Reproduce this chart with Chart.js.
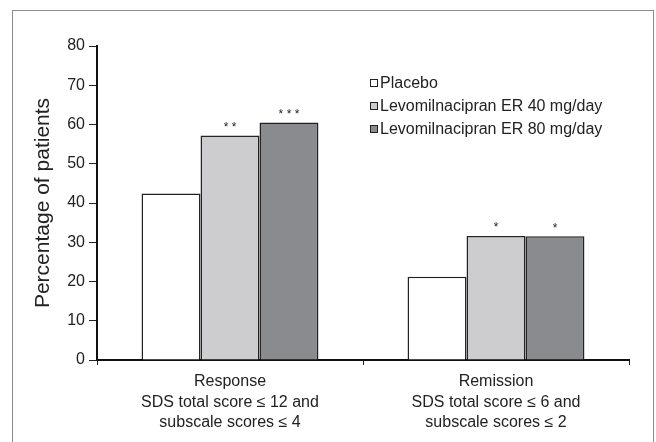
<!DOCTYPE html>
<html>
<head>
<meta charset="utf-8">
<script src="https://cdn.jsdelivr.net/npm/chart.js@4"></script>
<style>
  body { margin: 0; background: #fff; }
  #wrap { position: relative; width: 656px; height: 442px; overflow: hidden; }
  #frame { position: absolute; left: 12px; top: 10px; width: 640px; height: 460px; border: 1px solid #8c8c8c; }
  #chart { position: absolute; left: 0; top: 0; }
</style>
</head>
<body>
<div id="wrap">
  <div id="frame"></div>
  <canvas id="chart" width="656" height="442"></canvas>
</div>
<script>
// values
const categories = [
  ["Response", "SDS total score \u2264 12 and", "subscale scores \u2264 4"],
  ["Remission", "SDS total score \u2264 6 and", "subscale scores \u2264 2"],
];
const seriesNames = ["Placebo", "Levomilnacipran ER 40 mg/day", "Levomilnacipran ER 80 mg/day"];
const placeboValues = [42.4, 21.2];
const er40Values = [57.2, 31.6];
const er80Values = [60.5, 31.5];
// significance marks above bars
const placeboStars = ["", ""];
const er40Stars = ["**", "*"];
const er80Stars = ["***", "*"];
const yMin = 0;
const yMax = 80;
const yStep = 10;

const fontFamily = "'Liberation Sans', Arial, Helvetica, sans-serif";
const barColors = ["#ffffff", "#cdcdd0", "#8a8b8f"];

// stars drawn just above each bar
const starsPlugin = {
  id: "stars",
  afterDatasetsDraw(chart) {
    const ctx = chart.ctx;
    ctx.save();
    ctx.font = "12px " + fontFamily;
    ctx.fillStyle = "#222";
    ctx.textAlign = "center";
    ctx.textBaseline = "middle";
    chart.data.datasets.forEach((ds, i) => {
      const meta = chart.getDatasetMeta(i);
      meta.data.forEach((bar, j) => {
        const s = ds.stars[j];
        if (!s) return;
        ctx.fillText(s.split("").join(" "), bar.x, bar.y - 8);
      });
    });
    ctx.restore();
  },
};

// legend inside the plot, upper right
const legendPlugin = {
  id: "insideLegend",
  afterDraw(chart) {
    const ctx = chart.ctx;
    const x = 370;
    let y = 83;
    ctx.save();
    ctx.font = "16px " + fontFamily;
    ctx.textBaseline = "middle";
    chart.data.datasets.forEach((ds) => {
      ctx.fillStyle = ds.backgroundColor;
      ctx.fillRect(x, y - 4, 8, 8);
      ctx.strokeStyle = "#222";
      ctx.lineWidth = 1;
      ctx.strokeRect(x + 0.5, y - 3.5, 7, 7);
      ctx.fillStyle = "#222";
      ctx.fillText(ds.label, x + 10, y + 1);
      y += 23;
    });
    ctx.restore();
  },
};

const makeDataset = (label, values, color, stars) => ({
  label: label,
  data: values,
  backgroundColor: color,
  borderColor: "#222",
  borderWidth: 1.5,
  borderSkipped: "bottom",
  stars: stars,
});

const createChart = () => {
  const ctx = document.querySelector("#chart").getContext("2d");
  new Chart(ctx, {
    type: "bar",
    data: {
      labels: categories,
      datasets: [
        makeDataset(seriesNames[0], placeboValues, barColors[0], placeboStars),
        makeDataset(seriesNames[1], er40Values, barColors[1], er40Stars),
        makeDataset(seriesNames[2], er80Values, barColors[2], er80Stars),
      ],
    },
    options: {
      responsive: false,
      animation: false,
      layout: {
        padding: { left: 31, right: 27, top: 46, bottom: 0 },
      },
      datasets: {
        bar: {
          barPercentage: 1,
          categoryPercentage: 0.665,
        },
      },
      plugins: {
        legend: { display: false },
        tooltip: { enabled: false },
      },
      scales: {
        x: {
          grid: {
            display: true,
            drawOnChartArea: false,
            offset: true,
            color: "#222",
            lineWidth: 1,
            tickLength: 5,
          },
          border: { color: "#111", width: 2 },
          ticks: {
            color: "#222",
            font: { family: fontFamily, size: 16, lineHeight: 1.3 },
            padding: 6,
            maxRotation: 0,
          },
          afterFit: (scale) => {
            scale.height = 442 - 360;
          },
        },
        y: {
          min: yMin,
          max: yMax,
          grid: {
            display: true,
            drawOnChartArea: false,
            color: "#222",
            lineWidth: 1,
            tickLength: 8,
          },
          border: { color: "#111", width: 2 },
          ticks: {
            stepSize: yStep,
            color: "#222",
            font: { family: fontFamily, size: 16 },
            padding: 4,
          },
          title: {
            display: true,
            text: "Percentage of patients",
            color: "#222",
            font: { family: fontFamily, size: 21 },
            padding: 0,
          },
          afterFit: (scale) => {
            scale.width = 97 - 31;
          },
        },
      },
    },
    plugins: [starsPlugin, legendPlugin],
  });
};

let interval;
const main = () => {
  if (interval && window.Chart) {
    createChart();
    clearInterval(interval);
  }
};
interval = setInterval(main, 50);
</script>
</body>
</html>
